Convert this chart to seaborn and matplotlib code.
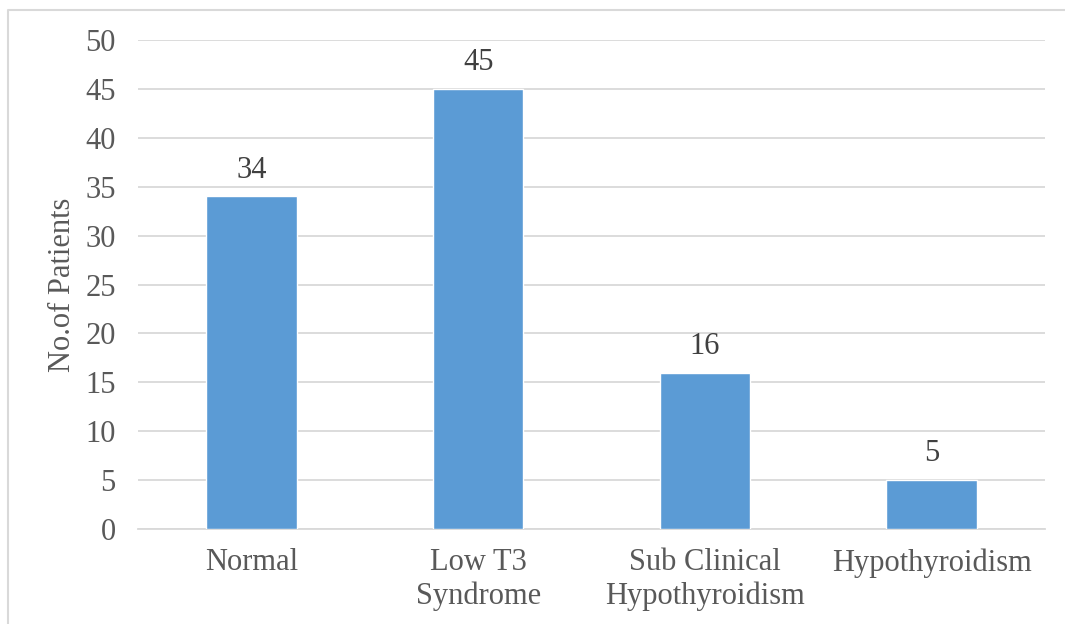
import matplotlib
matplotlib.use('Agg')
import matplotlib.pyplot as plt
import seaborn as sns
from matplotlib.lines import Line2D

categories = ['Normal', 'Low T3\nSyndrome', 'Sub Clinical\nHypothyroidism', 'Hypothyroidism']
patients = [34, 45, 16, 5]
y_ticks = [0, 5, 10, 15, 20, 25, 30, 35, 40, 45, 50]

sns.set_style('white')
plt.rcParams['font.family'] = ['Liberation Serif', 'DejaVu Serif']

text_col = '#595959'
fig = plt.figure(figsize=(10.65, 6.24), dpi=100)
ax = fig.add_axes([138 / 1065, 1 - 529 / 624, (1045 - 138) / 1065, (529 - 40) / 624])

sns.barplot(x=categories, y=patients, color='#5B9BD5', width=0.4, saturation=1, ax=ax, zorder=3)

ax.set_ylim(0, 50)
ax.set_yticks(y_ticks)
ax.yaxis.grid(True, color='#D9D9D9', linewidth=1.3, zorder=0)
ax.set_axisbelow(True)
for s in ['top', 'right', 'left']:
    ax.spines[s].set_visible(False)
ax.spines['bottom'].set_color('#D9D9D9')
ax.spines['bottom'].set_linewidth(1.3)
ax.tick_params(axis='both', length=0, labelsize=22, labelcolor=text_col)
ax.tick_params(axis='x', pad=14)
ax.tick_params(axis='y', pad=16)
for lab in ax.get_xticklabels():
    lab.set_linespacing(1.2)
ax.set_ylabel('No.of Patients', fontsize=22, color=text_col, labelpad=6)

# value labels above the bars
for i, v in enumerate(patients):
    ax.text(i, v + 1.2, str(v), ha='center', va='bottom', fontsize=22, color='#404040')

# light border of the chart area: only left and top edges are visible
x0, y0 = 8 / 1065, 1 - 10 / 624
fig.add_artist(Line2D([x0, x0, 1], [0, y0, y0], transform=fig.transFigure,
                      color='#D9D9D9', linewidth=1.5))

fig.savefig('out.png', dpi=100)
